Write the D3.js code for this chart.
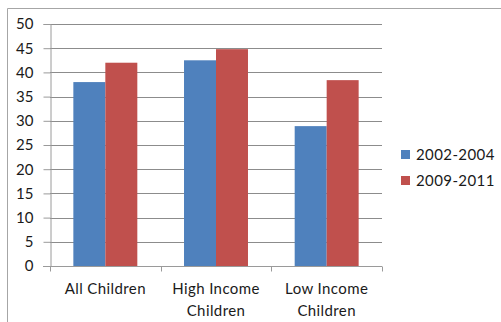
<!DOCTYPE html>
<html>
<head>
<meta charset="utf-8">
<script src="https://cdn.jsdelivr.net/npm/d3@7"></script>
<style>
  html, body { margin: 0; padding: 0; background: #fff; }
  svg { display: block; }
  text { font-family: Lato, "Open Sans", sans-serif; fill: #1a1a1a; }
</style>
</head>
<body>
<svg id="chart" width="501" height="322"></svg>
<script>
// Chart data
const categories = [["All Children"], ["High Income", "Children"], ["Low Income", "Children"]];
const seriesNames = ["2002-2004", "2009-2011"];
const series2002 = [38.0, 42.5, 28.9];
const series2009 = [42.0, 44.8, 38.4];
const yTicks = [0, 5, 10, 15, 20, 25, 30, 35, 40, 45, 50];
const colors = ["#4F81BD", "#C0504D"];

const svg = d3.select("#chart");

// outer chart frame
svg.append("path")
  .attr("d", "M7.5,322 V8.5 H501")
  .attr("fill", "none")
  .attr("stroke", "#a6a6a6")
  .attr("stroke-width", 1);

const plot = { left: 50, right: 382, top: 24, bottom: 266 };

const x = d3.scaleBand()
  .domain(categories.map((c, i) => i))
  .range([plot.left, plot.right]);

const x1 = d3.scaleBand()
  .domain(seriesNames)
  .range([0, x.bandwidth()])
  .paddingOuter(0.73)
  .paddingInner(0);

const y = d3.scaleLinear().domain([0, 50]).range([plot.bottom, plot.top]);

// gridlines
svg.append("g")
  .selectAll("line")
  .data(yTicks.filter(d => d > 0))
  .join("line")
  .attr("x1", plot.left)
  .attr("x2", plot.right)
  .attr("y1", d => Math.round(y(d)) + 0.5)
  .attr("y2", d => Math.round(y(d)) + 0.5)
  .attr("stroke", "#8c8c8c")
  .attr("stroke-width", 1);

// bars
const rows = categories.map((c, i) => ({ i, values: [series2002[i], series2009[i]] }));
svg.append("g")
  .selectAll("g")
  .data(rows)
  .join("g")
  .attr("transform", d => `translate(${x(d.i)},0)`)
  .selectAll("rect")
  .data(d => d.values.map((v, k) => ({ v, k })))
  .join("rect")
  .attr("x", d => x1(seriesNames[d.k]))
  .attr("width", x1.bandwidth())
  .attr("y", d => y(d.v))
  .attr("height", d => y(0) - y(d.v))
  .attr("fill", d => colors[d.k]);

// y axis
const yAxis = svg.append("g")
  .attr("transform", `translate(${plot.left + 0.5},0)`)
  .call(d3.axisLeft(y).tickValues(yTicks).tickSize(7).tickPadding(10).tickFormat(d3.format("d")));
yAxis.select(".domain").attr("stroke", "#9a9a9a");
yAxis.selectAll(".tick line").attr("stroke", "#9a9a9a");
yAxis.selectAll(".tick text")
  .attr("font-size", 15)
  .attr("font-family", "Lato, sans-serif")
  .attr("fill", "#1a1a1a");

// x axis
const xAxis = svg.append("g")
  .attr("transform", `translate(0,${plot.bottom + 0.5})`);
xAxis.append("line")
  .attr("x1", plot.left - 7)
  .attr("x2", plot.right)
  .attr("stroke", "#9a9a9a");
xAxis.selectAll("line.tk")
  .data(d3.range(categories.length + 1))
  .join("line")
  .attr("class", "tk")
  .attr("x1", i => Math.round(plot.left + i * x.bandwidth()) + 0.5)
  .attr("x2", i => Math.round(plot.left + i * x.bandwidth()) + 0.5)
  .attr("y1", 0)
  .attr("y2", 5)
  .attr("stroke", "#9a9a9a");

const labels = xAxis.selectAll("text.cat")
  .data(rows)
  .join("text")
  .attr("class", "cat")
  .attr("text-anchor", "middle")
  .attr("font-size", 15)
  .attr("letter-spacing", 0.4)
  .attr("x", d => x(d.i) + x.bandwidth() / 2);
labels.selectAll("tspan")
  .data(d => categories[d.i])
  .join("tspan")
  .attr("x", function () { return d3.select(this.parentNode).attr("x"); })
  .attr("y", (d, j) => 27 + j * 22)
  .text(d => d);

// legend
const legend = svg.append("g").attr("transform", "translate(401,150)");
const items = legend.selectAll("g")
  .data(seriesNames)
  .join("g")
  .attr("transform", (d, i) => `translate(0,${i * 26})`);
items.append("rect")
  .attr("width", 9)
  .attr("height", 9)
  .attr("fill", (d, i) => colors[i]);
items.append("text")
  .attr("x", 15)
  .attr("y", 9.5)
  .attr("font-size", 15)
  .attr("letter-spacing", 0.4)
  .text(d => d);
</script>
</body>
</html>
